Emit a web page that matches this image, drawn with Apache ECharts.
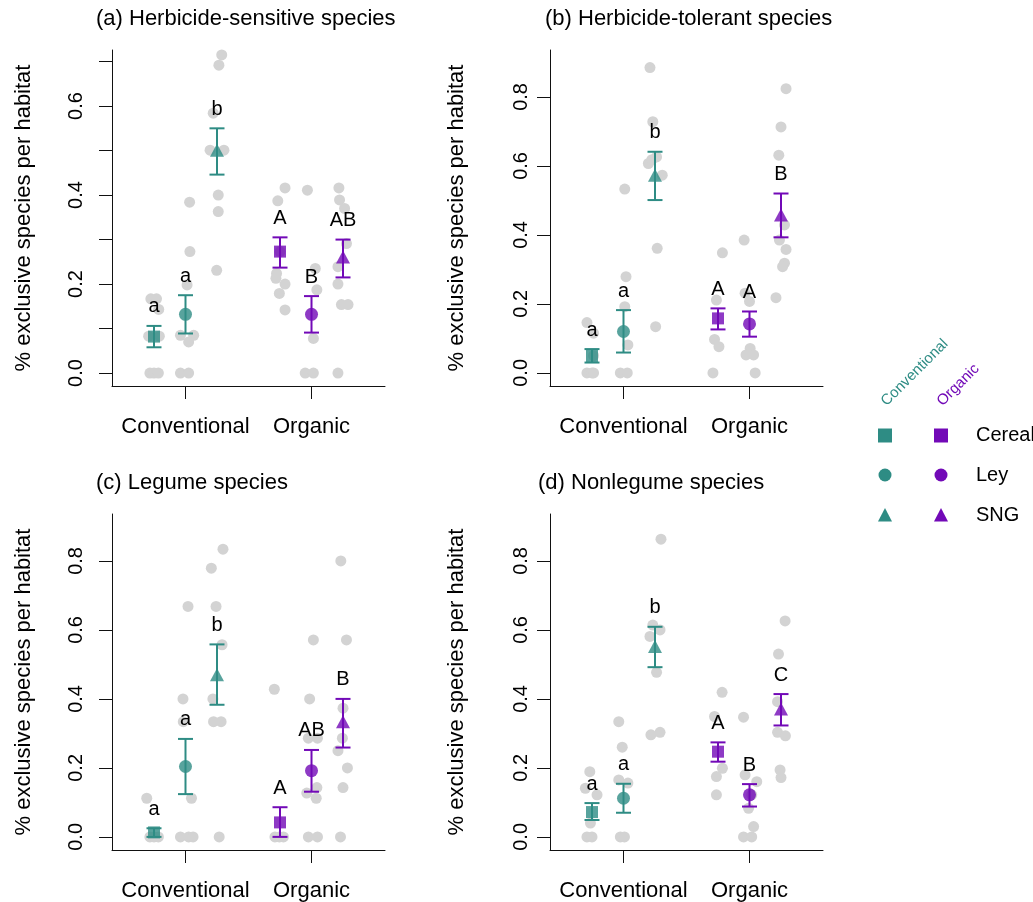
<!DOCTYPE html>
<html>
<head>
<meta charset="utf-8">
<script src="https://cdn.jsdelivr.net/npm/echarts@6/dist/echarts.min.js"></script>
<style>
html,body{margin:0;padding:0;background:#fff;}
#chart{width:1033px;height:902px;}
</style>
</head>
<body>
<div id="chart"></div>
<script>
// ---------- DATA ----------
const groupNames = ['Conventional Cereal','Conventional Ley','Conventional SNG','Organic Cereal','Organic Ley','Organic SNG'];
const systemLabels = ['Conventional','Organic'];
const habitatLabels = ['Cereal','Ley','SNG'];
const panelTitles = ['(a) Herbicide-sensitive species','(b) Herbicide-tolerant species','(c) Legume species','(d) Nonlegume species'];
const yAxisTitle = '% exclusive species per habitat';
const tickValuesA = [0,0.1,0.2,0.3,0.4,0.5,0.6,0.7];
const tickLabelsA = [0,0.2,0.4,0.6];
const tickValuesBCD = [0,0.2,0.4,0.6,0.8];

// Panel (a)
const meansA  = [0.082,0.132,0.501,0.273,0.132,0.261];
const lowerA  = [0.058,0.089,0.446,0.237,0.091,0.215];
const upperA  = [0.106,0.175,0.550,0.305,0.173,0.300];
const lettersA = ['a','a','b','A','B','AB'];
const pointsA = [
  [[-0.13,0],[0.0,0],[0.14,0],[-0.1,0.167],[0.08,0.167],[0.15,0.143],[-0.17,0.083],[0.17,0.083]],
  [[-0.16,0],[0.1,0],[-0.16,0.085],[0.26,0.085],[0.1,0.07],[0.05,0.198],[0.14,0.273],[0.13,0.384]],
  [[0.15,0.715],[0.06,0.692],[-0.12,0.584],[-0.22,0.501],[0.22,0.501],[0.04,0.4],[0.04,0.363],[-0.01,0.231]],
  [[0.16,0.416],[-0.07,0.387],[0,0.273],[-0.11,0.224],[-0.13,0.213],[0.16,0.2],[-0.02,0.179],[0.16,0.142]],
  [[-0.13,0.411],[0.12,0.235],[0.17,0.187],[0.06,0.078],[-0.2,0],[0.06,0]],
  [[-0.13,0.416],[-0.11,0.389],[0.05,0.37],[0.11,0.291],[-0.16,0.239],[-0.16,0.2],[-0.05,0.154],[0.16,0.154],[-0.16,0]]
];

// Panel (b)
const meansB  = [0.049,0.120,0.573,0.158,0.142,0.458];
const lowerB  = [0.030,0.059,0.501,0.126,0.105,0.393];
const upperB  = [0.069,0.182,0.641,0.187,0.178,0.520];
const lettersB = ['a','a','b','A','A','B'];
const pointsB = [
  [[-0.16,0],[0,0],[0.05,0],[-0.16,0.146],[0.05,0.115],[0.05,0.05]],
  [[-0.1,0],[0.12,0],[0.14,0.081],[0.04,0.192],[0.08,0.279],[0.04,0.533]],
  [[-0.16,0.885],[-0.07,0.728],[0.05,0.626],[-0.21,0.607],[-0.1,0.618],[0.23,0.573],[0.07,0.361],[0.02,0.134]],
  [[-0.16,0],[0.03,0.076],[-0.11,0.097],[-0.05,0.211],[0.14,0.348]],
  [[-0.17,0.385],[-0.14,0.231],[0,0.207],[0.02,0.071],[-0.11,0.052],[0.13,0.052],[0.18,0]],
  [[0.16,0.824],[0,0.713],[-0.07,0.631],[0.11,0.429],[-0.05,0.385],[0.16,0.358],[0.11,0.318],[0.05,0.308],[-0.16,0.218]]
];

// Panel (c)
const meansC  = [0.013,0.204,0.470,0.042,0.192,0.334];
const lowerC  = [0.000,0.124,0.383,0.000,0.131,0.259];
const upperC  = [0.025,0.284,0.558,0.086,0.252,0.400];
const lettersC = ['a','a','b','A','AB','B'];
const pointsC = [
  [[-0.13,0],[0,0],[0.14,0],[-0.23,0.112]],
  [[-0.16,0],[0.1,0],[0.24,0],[0.19,0.112],[-0.08,0.4],[-0.07,0.334],[0.08,0.668]],
  [[0.19,0.834],[-0.18,0.779],[-0.03,0.668],[0.16,0.557],[-0.13,0.4],[-0.11,0.334],[0.13,0.334],[0.07,0]],
  [[-0.18,0.428],[-0.16,0],[0.11,0],[-0.02,0]],
  [[0.06,0.571],[-0.06,0.4],[-0.1,0.286],[0.19,0.286],[0.17,0.143],[-0.15,0.127],[0.15,0.112],[-0.1,0],[0.19,0]],
  [[-0.07,0.8],[0.11,0.571],[0,0.373],[-0.02,0.286],[-0.16,0.25],[0.14,0.2],[0,0.143],[-0.08,0]]
];

// Panel (d)
const meansD  = [0.072,0.112,0.552,0.247,0.122,0.371];
const lowerD  = [0.049,0.070,0.492,0.218,0.088,0.323];
const upperD  = [0.098,0.154,0.609,0.274,0.153,0.414];
const lettersD = ['a','a','b','A','B','C'];
const pointsD = [
  [[-0.07,0.189],[-0.21,0.141],[0.16,0.122],[-0.05,0.04],[-0.16,0],[0,0]],
  [[-0.15,0.334],[-0.04,0.26],[-0.15,0.165],[0.14,0.156],[-0.1,0],[0.03,0]],
  [[0.19,0.863],[-0.07,0.614],[0.16,0.6],[-0.16,0.581],[0.05,0.477],[0.16,0.303],[-0.13,0.296]],
  [[0.13,0.419],[-0.11,0.349],[0.14,0.199],[-0.05,0.175],[-0.05,0.122]],
  [[-0.19,0.347],[-0.14,0.18],[0.23,0.16],[0.07,0.122],[-0.03,0.083],[0.13,0.03],[-0.19,0],[0.07,0]],
  [[0.13,0.626],[-0.08,0.53],[-0.11,0.392],[-0.11,0.303],[0.14,0.293],[-0.03,0.194],[0,0.172]]
];

// ---------- STYLE / LAYOUT ----------
const FONT = '"Liberation Sans", Arial, Helvetica, sans-serif';
const TEAL = '#2E8C84';
const PURPLE = '#7209B7';
const GRAY = '#D3D3D3';
const AXIS = '#111';

const panels = [
  {means:meansA, lower:lowerA, upper:upperA, letters:lettersA, points:pointsA,
   left:112, top:50, yMin:-0.029, yMax:0.726, ticks:tickValuesA, labels:tickLabelsA, labelMargin:26, nameGap:77, titleLeft:96, titleTop:8},
  {means:meansB, lower:lowerB, upper:upperB, letters:lettersB, points:pointsB,
   left:550, top:50, yMin:-0.038, yMax:0.936, ticks:tickValuesBCD, labels:tickValuesBCD, labelMargin:19, nameGap:82, titleLeft:545, titleTop:8},
  {means:meansC, lower:lowerC, upper:upperC, letters:lettersC, points:pointsC,
   left:112, top:514, yMin:-0.038, yMax:0.936, ticks:tickValuesBCD, labels:tickValuesBCD, labelMargin:26, nameGap:77, titleLeft:96, titleTop:472},
  {means:meansD, lower:lowerD, upper:upperD, letters:lettersD, points:pointsD,
   left:550, top:514, yMin:-0.038, yMax:0.936, ticks:tickValuesBCD, labels:tickValuesBCD, labelMargin:19, nameGap:82, titleLeft:538, titleTop:472}
];

function groupX(i){ return (i < 3 ? 2 : 6) + (i % 3) - 1; }
function groupColor(i){ return i < 3 ? TEAL : PURPLE; }
const meanSymbols = ['rect','circle','triangle'];
const meanSizes = [12, 13, [14,13]];

const grid = [], xAxis = [], yAxis = [], series = [], title = [];

panels.forEach((p, k) => {
  grid.push({left:p.left, top:p.top, width:273, height:336, containLabel:false, outerBoundsMode:'none'});
  title.push({text:panelTitles[k], left:p.titleLeft, top:p.titleTop, padding:0,
    textStyle:{fontSize:22, fontWeight:'normal', fontFamily:FONT, color:'#000'}});
  xAxis.push({
    gridIndex:k, type:'value', min:-0.333, max:8.333,
    splitLine:{show:false},
    axisLine:{show:true, onZero:false, lineStyle:{color:AXIS, width:1}},
    axisTick:{show:true, customValues:[2,6], length:13, lineStyle:{color:AXIS, width:1}},
    axisLabel:{show:true, customValues:[2,6], margin:30, fontSize:22, fontFamily:FONT, color:'#000',
      formatter: v => (Math.abs(v-2) < 1e-6 ? systemLabels[0] : systemLabels[1])}
  });
  yAxis.push({
    gridIndex:k, type:'value', min:p.yMin, max:p.yMax,
    splitLine:{show:false},
    axisLine:{show:true, onZero:false, lineStyle:{color:AXIS, width:1}},
    axisTick:{show:true, customValues:p.ticks, length:13, lineStyle:{color:AXIS, width:1}},
    axisLabel:{show:true, customValues:p.labels, rotate:90, margin:p.labelMargin, fontSize:20, fontFamily:FONT, color:'#000',
      formatter: v => v.toFixed(1)},
    name:yAxisTitle, nameLocation:'middle', nameGap:p.nameGap,
    nameTextStyle:{fontSize:22, fontFamily:FONT, color:'#000'}
  });

  // raw points
  const raw = [];
  p.points.forEach((grp, i) => grp.forEach(pt => raw.push([groupX(i) + pt[0], pt[1]])));
  series.push({type:'scatter', xAxisIndex:k, yAxisIndex:k, data:raw, symbol:'circle', symbolSize:11,
    itemStyle:{color:GRAY, opacity:1}, z:1, silent:true});

  // error bars + letters
  const eb = p.means.map((m, i) => [groupX(i), p.lower[i], p.upper[i]]);
  series.push({type:'custom', xAxisIndex:k, yAxisIndex:k, data:eb, z:2, silent:true,
    encode:{x:0, y:[1,2]},
    renderItem:(params, api) => {
      const i = params.dataIndex;
      const x = api.value(0), lo = api.value(1), hi = api.value(2);
      const t = api.coord([x, hi]), b = api.coord([x, lo]);
      const c = groupColor(i), w = 7.5;
      const ls = {stroke:c, lineWidth:2};
      return {type:'group', children:[
        {type:'line', shape:{x1:t[0], y1:t[1], x2:b[0], y2:b[1]}, style:ls},
        {type:'line', shape:{x1:t[0]-w, y1:t[1], x2:t[0]+w, y2:t[1]}, style:ls},
        {type:'line', shape:{x1:b[0]-w, y1:b[1], x2:b[0]+w, y2:b[1]}, style:ls},
        {type:'text', style:{text:p.letters[i], x:t[0], y:t[1]-19,
          align:'center', verticalAlign:'middle', textAlign:'center', textVerticalAlign:'middle',
          font:'20px ' + FONT, fontSize:20, fontFamily:FONT, fill:'#000'}}
      ]};
    }
  });

  // means
  const md = p.means.map((m, i) => ({value:[groupX(i), m], symbol:meanSymbols[i % 3],
    symbolSize:meanSizes[i % 3], itemStyle:{color:groupColor(i)}}));
  series.push({type:'scatter', xAxisIndex:k, yAxisIndex:k, data:md, z:3, silent:true});
});

// ---------- LEGEND (graphic) ----------
const legX = [885, 941];
const legY = [435.5, 475, 515];
const legColors = [TEAL, PURPLE];
const graphics = [];
[0,1].forEach(s => {
  graphics.push({type:'text', x:legX[s]+4, y:409, rotation:Math.PI/4,
    style:{text:systemLabels[s], fill:legColors[s], font:'15px ' + FONT, fontSize:15, fontFamily:FONT,
      align:'left', verticalAlign:'bottom', textAlign:'left', textVerticalAlign:'bottom'}});
  const cx = legX[s];
  graphics.push({type:'rect', shape:{x:cx-7, y:legY[0]-7, width:14, height:14}, style:{fill:legColors[s]}});
  graphics.push({type:'circle', shape:{cx:cx, cy:legY[1], r:6.5}, style:{fill:legColors[s]}});
  graphics.push({type:'polygon', shape:{points:[[cx, legY[2]-7],[cx-7, legY[2]+6.5],[cx+7, legY[2]+6.5]]}, style:{fill:legColors[s]}});
});
habitatLabels.forEach((h, r) => {
  graphics.push({type:'text', x:976, y:legY[r],
    style:{text:h, fill:'#000', font:'20px ' + FONT, fontSize:20, fontFamily:FONT,
      align:'left', verticalAlign:'middle', textAlign:'left', textVerticalAlign:'middle'}});
});

const chart = echarts.init(document.getElementById('chart'), null, {renderer:'canvas'});
chart.setOption({
  animation:false,
  backgroundColor:'#fff',
  textStyle:{fontFamily:FONT},
  title, grid, xAxis, yAxis, series,
  graphic:{elements:graphics}
});
</script>
</body>
</html>
